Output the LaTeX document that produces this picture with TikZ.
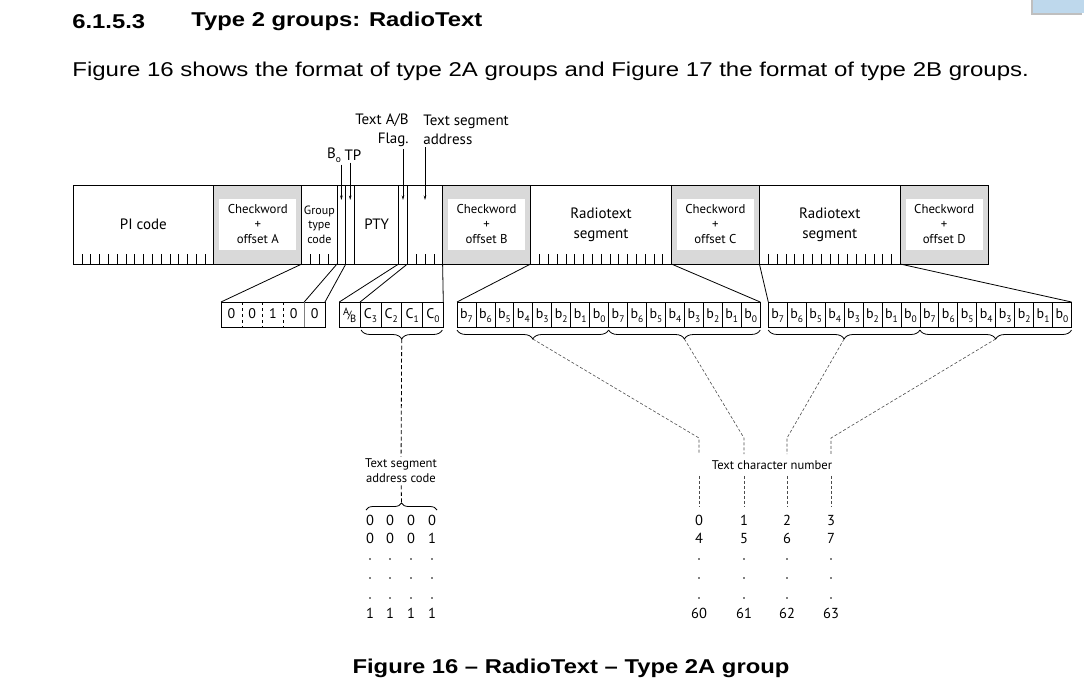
\documentclass[tikz,border=0pt]{standalone}
\usepackage{fontspec}
\setmainfont{PT Sans}
\newfontfamily\arialfont{Liberation Sans}
\usepackage{graphicx}
\usepackage{tikz}
\usetikzlibrary{calc,arrows.meta,decorations.pathreplacing}
\definecolor{tabblue}{RGB}{190,216,236}

\tikzset{
  field/.style={draw, anchor=north west, inner sep=0pt, outer sep=0pt, minimum height=79pt,
    align=center, font=\fontsize{15}{20}\selectfont},
  cwfield/.style={field, fill=black!15},
  cwtext/.style={fill=white, inner sep=0pt, minimum width=77pt, minimum height=51pt,
    align=center, font=\fontsize{12.8}{15}\selectfont},
  bitcell/.style={inner sep=0pt, outer sep=0pt, minimum height=25pt, anchor=north west,
    text height=10pt, text depth=2pt, font=\fontsize{14}{14}\selectfont},
  lbl/.style={inner sep=2pt, font=\fontsize{12.6}{15}\selectfont},
  toplbl/.style={inner sep=2pt, font=\fontsize{15}{19}\selectfont},
  digit/.style={inner sep=2pt, text height=10pt, text depth=0.5pt, font=\fontsize{14.5}{14.5}\selectfont},
  bracket/.style={decorate, decoration={brace, mirror, amplitude=9pt}},
  dashline/.style={black!70, dash pattern=on 3pt off 2pt},
  arr/.style={-{Stealth[length=4.5pt,width=2.5pt]}},
}
\newcommand\lowsub[1]{\raisebox{-3.5pt}{\fontsize{9.5}{9.5}\selectfont #1}}

\begin{document}
\begin{tikzpicture}[x=1pt, y=-1pt, line width=0.8pt]
  \useasboundingbox (0,0) rectangle (1084,691);

  % heading and caption
  \fill[black!25] (1031,0) rectangle (1082,15);
  \fill[tabblue] (1033,0) rectangle (1084,13);
  \node[anchor=west, inner sep=0pt, font=\arialfont\bfseries\fontsize{20}{20}\selectfont]
    (secno) at (72,21.5) {\scalebox{1.19}[1]{6.1.5.3}};
  \node[anchor=west, inner sep=0pt, font=\arialfont\bfseries\fontsize{20}{20}\selectfont]
    (sectitle) at (191,21.5) {\scalebox{1.19}[1]{Type 2 groups: RadioText}};
  \node[anchor=west, inner sep=0pt, font=\arialfont\fontsize{20}{20}\selectfont]
    (intro) at (72,71) {\scalebox{1.2}[1]{Figure 16 shows the format of type 2A groups and Figure 17 the format of type 2B groups.}};
  \node[inner sep=0pt, font=\arialfont\bfseries\fontsize{20}{20}\selectfont]
    (caption) at (571,668) {\scalebox{1.19}[1]{Figure 16 – RadioText – Type 2A group}};

  % group
  \node[field, minimum width=140.8pt] (pi) at (73,185) {PI code};
  \node[cwfield, minimum width=88pt] (cwA) at (pi.north east) {};
  \node[cwtext] at (cwA) {Checkword\\+\\offset A};
  \node[field, minimum width=35.2pt, font=\fontsize{12}{14.5}\selectfont] (gtc) at (cwA.north east) {Group\\type\\code};
  \node[field, minimum width=8.8pt] (b0f) at (gtc.north east) {};
  \node[field, minimum width=8.8pt] (tpf) at (b0f.north east) {};
  \node[field, minimum width=44pt] (pty) at (tpf.north east) {PTY};
  \node[field, minimum width=8.8pt] (abf) at (pty.north east) {};
  \node[field, minimum width=35.2pt] (addr) at (abf.north east) {};
  \node[cwfield, minimum width=88pt] (cwB) at (addr.north east) {};
  \node[cwtext] at (cwB) {Checkword\\+\\offset B};
  \node[field, minimum width=140.8pt] (rt1) at (cwB.north east) {Radiotext\\segment};
  \node[cwfield, minimum width=88pt] (cwC) at (rt1.north east) {};
  \node[cwtext] at (cwC) {Checkword\\+\\offset C};
  \node[field, minimum width=140.8pt] (rt2) at (cwC.north east) {Radiotext\\segment};
  \node[cwfield, minimum width=88pt] (cwD) at (rt2.north east) {};
  \node[cwtext] at (cwD) {Checkword\\+\\offset D};
  \foreach \f/\n in {pi/15, gtc/3, addr/3, rt1/15, rt2/15}
    \foreach \i in {1,...,\n}
      \draw[shift={(\f.south west)}, line width=0.6pt] (\i*8.8,0) -- (\i*8.8,-10);

  % labels above
  \node[toplbl] (lbo) at (334,155) {B\lowsub{o}};
  \node[toplbl] (ltp) at (353,155) {TP};
  \node[toplbl, align=right, anchor=east] (lflag) at (411,130) {Text A/B\\Flag.};
  \node[toplbl, align=left, anchor=west] (laddr) at (421,130) {Text segment\\address};
  \foreach \f in {b0f, tpf, abf, addr}
    \coordinate (e\f) at ($(\f.north)+(0,15)$);
  \draw[arr, line width=0.6pt] (eb0f |- lbo.south) -- (eb0f);
  \draw[arr, line width=0.6pt] (etpf |- ltp.south) -- (etpf);
  \draw[arr, line width=0.6pt] (eabf |- lflag.south) -- (eabf);
  \draw[arr, line width=0.6pt] (eaddr |- laddr.south) -- (eaddr);

  % expanded bits
  \foreach \v [count=\i] in {0,0,1,0,0}
    \node[bitcell, minimum width=20.8pt] (g\i) at (200.2+\i*20.8,302) {\v};
  \draw (g1.north west) rectangle (g5.south east);
  \foreach \i in {2,3,4}
    \draw[dashed, line width=0.6pt] (g\i.north west) -- (g\i.south west);
  \draw[black!50] (g5.north west) -- (g5.south west);

  \node[bitcell, draw, minimum width=20.8pt] (ab) at (339.3,302)
    {{\fontsize{10.5}{10.5}\selectfont\raisebox{3pt}{A}\kern-1.5pt/\kern-1.5pt\raisebox{-4pt}{B}}};
  \foreach \k [count=\i] in {3,2,1,0}
    \node[bitcell, draw, minimum width=20.8pt] (c\k) at (339.3+\i*20.8,302) {C\lowsub{\k}};

  \foreach \h/\xs in {0/457, 1/608.6, 2/768.3, 3/919.9}
    \foreach \k in {7,...,0}
      \node[bitcell, draw, minimum width=18.95pt] (r\h b\k) at ({\xs+(7-\k)*18.95},302) {b\lowsub{\k}};

  \draw (cwA.south east) -- (g1.north west);
  \draw (gtc.south east) -- (g5.north west);
  \draw (b0f.south east) -- (g5.north east);
  \draw (pty.south east) -- (ab.north west);
  \draw (abf.south east) -- (c3.north west);
  \draw (addr.south east) -- (c0.north east);
  \draw (cwB.south east) -- (r0b7.north west);
  \draw (cwC.south west) -- (r1b0.north east);
  \draw (cwC.south east) -- (r2b7.north west);
  \draw (cwD.south west) -- (r3b0.north east);

  % braces
  \draw[bracket] ($(c3.south west)+(1,3)$) -- ($(c0.south east)+(-1,3)$);
  \coordinate (ta) at ($(c3.south west)!.5!(c0.south east)+(0,12)$);
  \foreach \h in {0,...,3} {
    \draw[bracket] ($(r\h b7.south west)+(0,3)$) -- ($(r\h b0.south east)+(0,3)$);
    \coordinate (t\h) at ($(r\h b7.south west)!.5!(r\h b0.south east)+(0,12)$);
  }

  % address code
  \node[lbl, align=center] (tsac) at (401,471) {Text segment\\address code};
  \draw[black, dash pattern=on 4pt off 2.5pt] (ta) -- (tsac);
  \draw[decorate, decoration={brace, amplitude=7pt}] (366,510) -- (437,510);
  \coordinate (ts) at (401.5,503);
  \draw[black, dash pattern=on 4pt off 2.5pt] (tsac) -- (ts);
  \foreach \x [count=\i] in {370,390,411,432} {
    \node[digit] (sa\i) at (\x,521) {0};
    \node[digit] (sb\i) at (\x,539) {\ifnum\i=4 1\else 0\fi};
    \foreach \y in {559,578,598}
      \fill (\x,\y) circle (0.8);
    \node[digit] (sz\i) at (\x,614) {1};
  }

  % character numbers
  \node[lbl, inner sep=6pt] (tcn) at (772,465) {Text character number};
  \foreach \x [count=\i from 0] in {699,744,787,831} {
    \coordinate (k\i) at (\x,438);
    \node[digit] (na\i) at (\x,521) {\i};
    \node[digit] (nb\i) at (\x,539) {\the\numexpr\i+4\relax};
    \foreach \y in {559,578,598}
      \fill (\x,\y) circle (0.8);
    \node[digit] (nz\i) at (\x,614) {\the\numexpr\i+60\relax};
    \draw[dashline, line width=0.6pt] (t\i) -- (k\i) -- (k\i |- tcn.north);
    \draw[dashline, line width=0.6pt, shorten >=6pt] (k\i |- tcn.south) -- (na\i);
  }
\end{tikzpicture}
\end{document}
